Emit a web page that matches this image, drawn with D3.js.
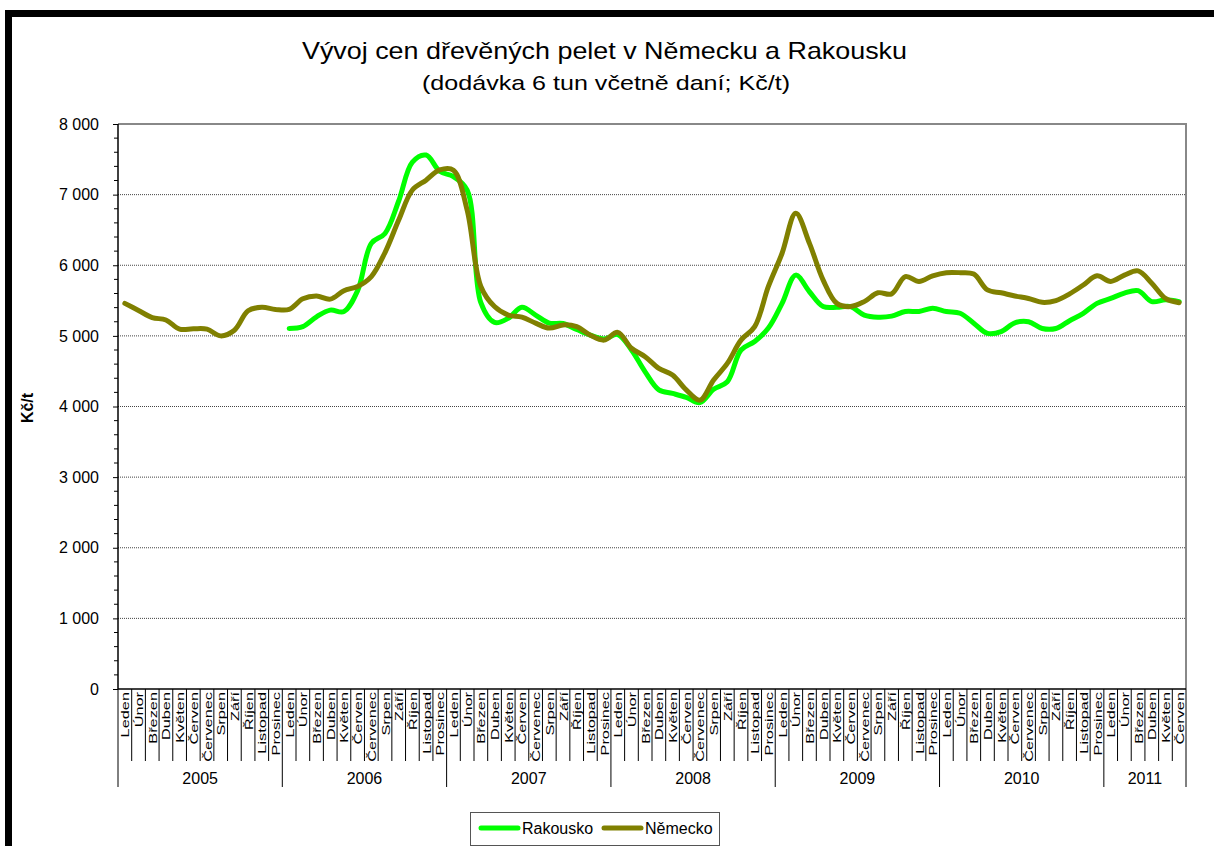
<!DOCTYPE html>
<html>
<head>
<meta charset="utf-8">
<script src="https://cdn.jsdelivr.net/npm/d3@7"></script>
<style>
  body { margin: 0; background: #fff; }
  svg { font-family: "Liberation Sans", Arial, sans-serif; }
</style>
</head>
<body>
<svg id="chart"></svg>
<script>
const width = 1214;
const height = 846;

// data
const years = ["2005", "2006", "2007", "2008", "2009", "2010", "2011"];
const monthNames = ["Leden", "Únor", "Březen", "Duben", "Květen", "Červen",
  "Červenec", "Srpen", "Září", "Říjen", "Listopad", "Prosinec"];
const monthsPerYear = [12, 12, 12, 12, 12, 12, 6];
const yTicks = [0, 1000, 2000, 3000, 4000, 5000, 6000, 7000, 8000];

const rakousko = [
  null, null, null, null, null, null, null, null, null, null, null, null,
  5105, 5130, 5270, 5365, 5345, 5640, 6310, 6450, 6910, 7460, 7560, 7330,
  7255, 7065, 5470, 5190, 5250, 5405, 5295, 5180, 5175, 5090, 5010, 4955,
  5020, 4800, 4490, 4235, 4185, 4130, 4055, 4245, 4350, 4800, 4920, 5110,
  5460, 5860, 5625, 5415, 5405, 5415, 5295, 5265, 5280, 5345, 5345, 5390,
  5345, 5320, 5180, 5035, 5060, 5185, 5200, 5105, 5105, 5215, 5320, 5460,
  5530, 5605, 5640, 5485, 5510, 5485
];
const nemecko = [
  5460, 5360, 5260, 5225, 5095, 5100, 5095, 5000, 5080, 5355, 5405, 5375,
  5375, 5525, 5565, 5520, 5640, 5700, 5840, 6180, 6640, 7065, 7205, 7350,
  7345, 6780, 5700, 5415, 5295, 5265, 5180, 5110, 5155, 5130, 5010, 4940,
  5050, 4825, 4705, 4540, 4445, 4235, 4090, 4375, 4610, 4940, 5130, 5700,
  6170, 6735, 6310, 5790, 5460, 5415, 5485, 5610, 5595, 5840, 5770, 5850,
  5895, 5895, 5875, 5650, 5610, 5565, 5530, 5475, 5500, 5595, 5720, 5850,
  5770, 5860, 5920, 5745, 5530, 5470
];

// build category list
let categories = [];
years.forEach((y, yi) => {
  for (let m = 0; m < monthsPerYear[yi]; m++) {
    categories.push({ year: y, month: monthNames[m], idx: categories.length });
  }
});

const plotLeft = 118, plotRight = 1186, plotTop = 124, plotBottom = 689;

let svg = d3.select("#chart")
  .attr("width", width)
  .attr("height", height);

svg.append("rect").attr("width", width).attr("height", height).attr("fill", "#fff");

// outer frame
svg.append("rect")
  .attr("x", 8.5).attr("y", 13.5)
  .attr("width", 1400).attr("height", 1000)
  .attr("fill", "none").attr("stroke", "#000").attr("stroke-width", 7);

// scales
let xScale = d3.scaleBand()
  .domain(categories.map(d => d.idx))
  .range([plotLeft, plotRight])
  .padding(0);

let yScale = d3.scaleLinear()
  .domain([0, 8000])
  .range([plotBottom, plotTop]);

// grid lines
svg.append("g").selectAll("line")
  .data(yTicks.filter(t => t > 0 && t < 8000))
  .join("line")
  .attr("x1", plotLeft).attr("x2", plotRight)
  .attr("y1", d => yScale(d)).attr("y2", d => yScale(d))
  .attr("stroke", "#444")
  .attr("stroke-width", 1)
  .attr("stroke-dasharray", "1,1");

// plot border (top + right)
svg.append("path")
  .attr("d", `M${plotLeft},${plotTop}H${plotRight}V${plotBottom}`)
  .attr("fill", "none")
  .attr("stroke", "#888")
  .attr("stroke-width", 2);

// y axis
let yAxis = d3.axisLeft(yScale)
  .tickValues(yTicks)
  .tickSize(5)
  .tickPadding(14)
  .tickFormat(d => d3.format(",")(d).replace(",", " "));
let yG = svg.append("g")
  .attr("transform", `translate(${plotLeft},0)`)
  .call(yAxis);
yG.select(".domain").remove();
yG.selectAll("text").attr("font-size", 16).attr("font-family", "Liberation Sans, Arial").attr("fill", "#000");
yG.selectAll(".tick line").attr("x2", -5).attr("stroke", "#000");

// minor ticks
svg.append("g").selectAll("line")
  .data(d3.range(0, 8001, 200).filter(v => v % 1000 !== 0))
  .join("line")
  .attr("x1", plotLeft - 4).attr("x2", plotLeft)
  .attr("y1", d => yScale(d)).attr("y2", d => yScale(d))
  .attr("stroke", "#000");

svg.append("line")
  .attr("x1", plotLeft).attr("x2", plotLeft)
  .attr("y1", plotTop).attr("y2", plotBottom)
  .attr("stroke", "#000").attr("stroke-width", 1.5);

// x axis line
svg.append("line")
  .attr("x1", plotLeft).attr("x2", plotRight)
  .attr("y1", plotBottom).attr("y2", plotBottom)
  .attr("stroke", "#000").attr("stroke-width", 1.5);

// month separators
const bw = xScale.bandwidth();
svg.append("g").selectAll("line")
  .data(categories)
  .join("line")
  .attr("x1", d => xScale(d.idx)).attr("x2", d => xScale(d.idx))
  .attr("y1", plotBottom)
  .attr("y2", d => monthNames.indexOf(d.month) === 0 ? 787 : 761)
  .attr("stroke", "#000").attr("stroke-width", 1);
svg.append("line")
  .attr("x1", plotRight).attr("x2", plotRight)
  .attr("y1", plotBottom).attr("y2", 787)
  .attr("stroke", "#000");

// month labels
svg.append("g").selectAll("text")
  .data(categories)
  .join("text")
  .attr("transform", d => `translate(${xScale(d.idx) + bw / 2 + 4.5},692) rotate(-90) scale(1.42,1)`)
  .attr("text-anchor", "end")
  .attr("font-size", 11.5)
  .text(d => d.month);

// year labels
let yearStart = 0;
years.forEach((y, yi) => {
  const n = monthsPerYear[yi];
  const x0 = xScale(yearStart);
  const x1 = yearStart + n >= categories.length ? plotRight : xScale(yearStart + n);
  svg.append("text")
    .attr("x", (x0 + x1) / 2)
    .attr("y", 784)
    .attr("text-anchor", "middle")
    .attr("font-size", 16)
    .text(y);
  yearStart += n;
});

// lines
let line = d3.line()
  .defined(d => d.v != null)
  .x(d => xScale(d.i) + bw / 2)
  .y(d => yScale(d.v))
  .curve(d3.curveCatmullRom.alpha(0.5));

const series = [
  { name: "Rakousko", values: rakousko, color: "#00ff00" },
  { name: "Německo", values: nemecko, color: "#808000" }
];

svg.append("g").selectAll("path")
  .data(series)
  .join("path")
  .attr("d", s => line(s.values.map((v, i) => ({ i: i, v: v }))))
  .attr("fill", "none")
  .attr("stroke", s => s.color)
  .attr("stroke-width", 5)
  .attr("stroke-linejoin", "round")
  .attr("stroke-linecap", "round");

// title
svg.append("text")
  .attr("x", 302).attr("y", 59)
  .attr("font-size", 24)
  .attr("textLength", 605)
  .attr("lengthAdjust", "spacingAndGlyphs")
  .text("Vývoj cen dřevěných pelet v Německu a Rakousku");
svg.append("text")
  .attr("x", 422).attr("y", 90)
  .attr("font-size", 21)
  .attr("textLength", 368)
  .attr("lengthAdjust", "spacingAndGlyphs")
  .text("(dodávka 6 tun včetně daní; Kč/t)");

// y label
svg.append("text")
  .attr("transform", "translate(33,408) rotate(-90)")
  .attr("text-anchor", "middle")
  .attr("font-size", 16)
  .attr("font-weight", "bold")
  .text("Kč/t");

// legend
let legend = svg.append("g");
legend.append("rect")
  .attr("x", 470.5).attr("y", 812.5)
  .attr("width", 249).attr("height", 33)
  .attr("fill", "#fff").attr("stroke", "#555").attr("stroke-width", 1);
const legX = [481, 604];
series.forEach((s, i) => {
  legend.append("line")
    .attr("x1", legX[i]).attr("x2", legX[i] + 37)
    .attr("y1", 828).attr("y2", 828)
    .attr("stroke", s.color).attr("stroke-width", 5)
    .attr("stroke-linecap", "round");
  legend.append("text")
    .attr("x", legX[i] + 41).attr("y", 834)
    .attr("font-size", 16)
    .text(s.name);
});
</script>
</body>
</html>
